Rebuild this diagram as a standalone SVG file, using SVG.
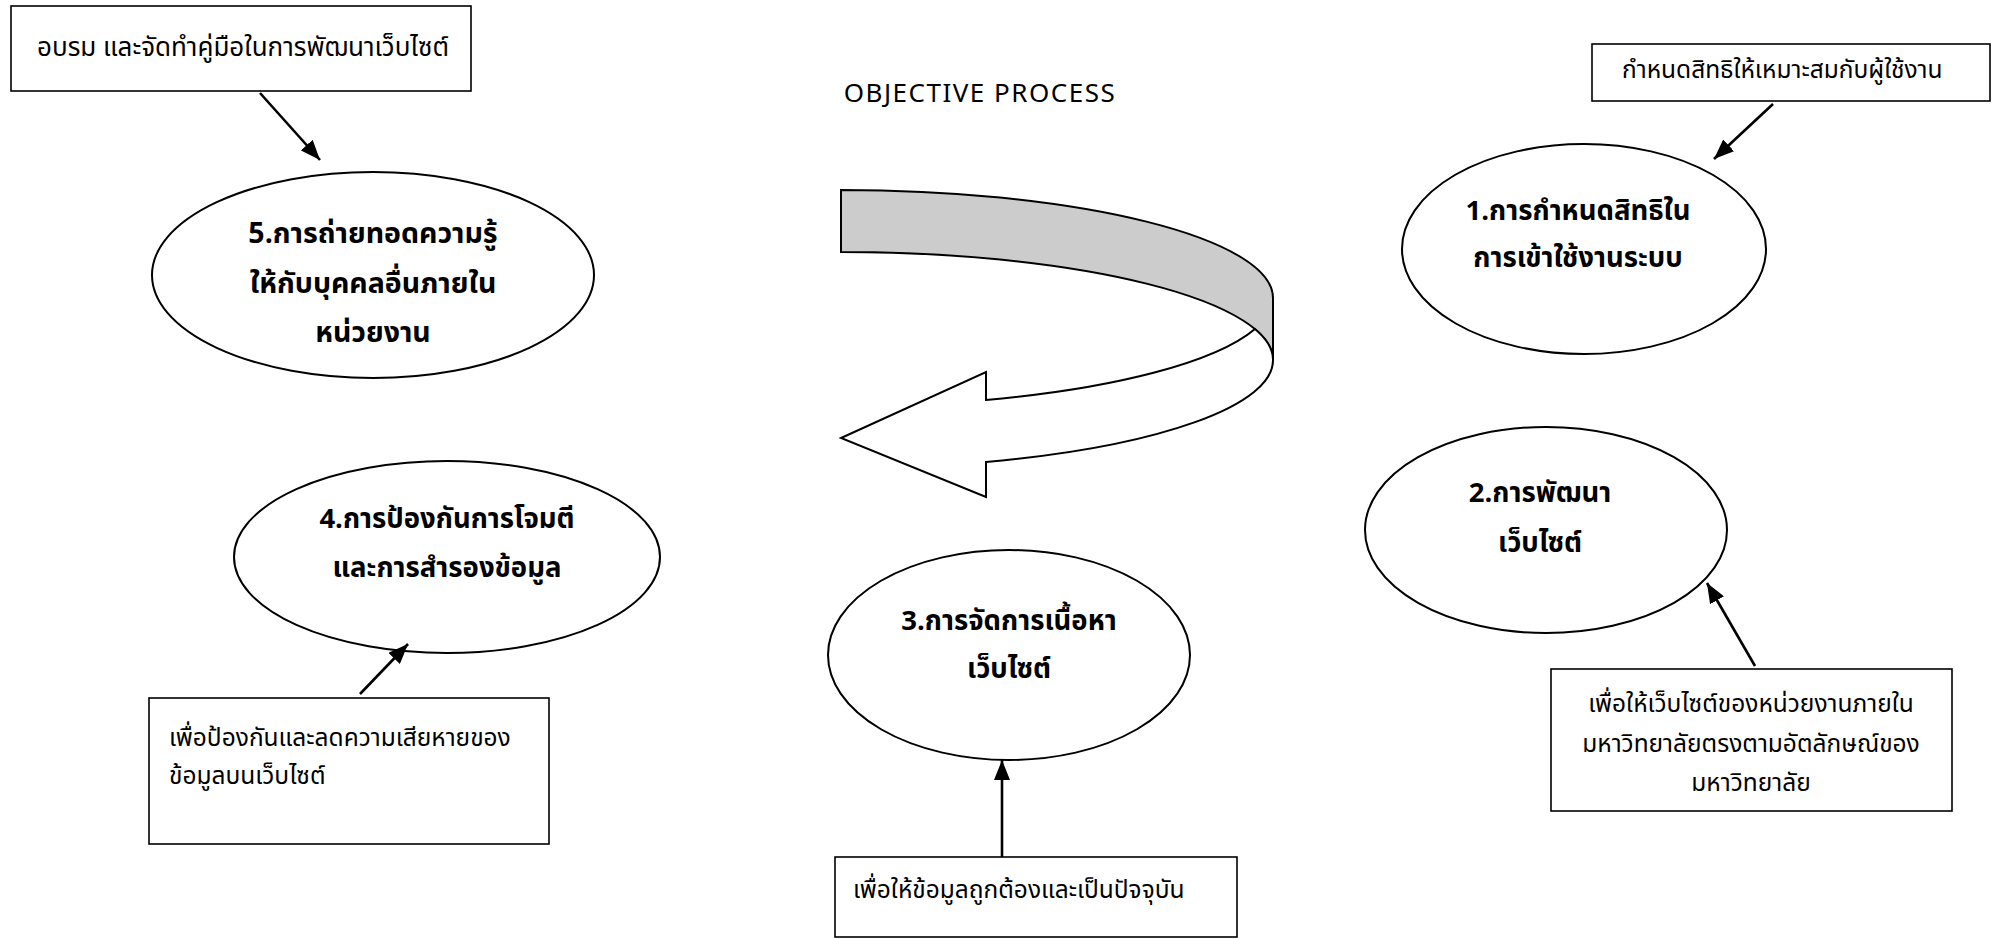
<svg xmlns="http://www.w3.org/2000/svg" width="1997" height="939" viewBox="0 0 1997 939">
<style>
.box{fill:#fff;stroke:#000;stroke-width:1.6}
.ell{fill:#fff;stroke:#000;stroke-width:2}
.t{font-family:"Noto Sans Thai","Noto Sans","DejaVu Sans",sans-serif;font-size:24.5px;fill:#000}
.b{font-family:"Noto Sans Thai","Noto Sans","DejaVu Sans",sans-serif;font-size:27.5px;font-weight:bold;fill:#000;text-anchor:middle}
.title{font-family:"Noto Sans","Liberation Sans",sans-serif;font-size:26px;letter-spacing:1.5px;fill:#000;text-anchor:middle}
.con{stroke:#000;stroke-width:2.6;fill:none;marker-end:url(#ah)}
</style>
<defs>
<marker id="ah" viewBox="0 0 20 16" refX="20" refY="8" markerWidth="20" markerHeight="16" orient="auto" markerUnits="userSpaceOnUse">
<path d="M0,0 L20,8 L0,16 Z" fill="#000"/>
</marker>
</defs>
<rect width="1997" height="939" fill="#fff"/>
<text class="title" x="980" y="102">OBJECTIVE PROCESS</text>
<g id="cycle-arrow">
<path d="M841,190 A432,108 0 0 1 1273,298 L1273,360 A432,108 0 0 0 841,252 Z" fill="#cccccc" stroke="#000" stroke-width="2"/>
<path d="M1255,329 A432,108 0 0 1 986,400 L986,372 L841,438 L986,497 L986,462 A432,108 0 0 0 1273,360 A432,108 0 0 0 1255,329 Z" fill="#fff" stroke="#000" stroke-width="2"/>
</g>
<g id="note-training">
<rect class="box" x="11" y="6" width="460" height="85"/>
<text class="t" x="37" y="56" style="font-size:26px">อบรม และจัดทำคู่มือในการพัฒนาเว็บไซต์</text>
</g>
<g id="note-permission">
<rect class="box" x="1592" y="44" width="398" height="57"/>
<text class="t" x="1622" y="78">กำหนดสิทธิให้เหมาะสมกับผู้ใช้งาน</text>
</g>
<g id="node5">
<ellipse class="ell" cx="373" cy="275" rx="221" ry="103"/>
<text class="b" x="373" y="243" style="font-size:28.5px">5.การถ่ายทอดความรู้</text>
<text class="b" x="373" y="293" style="font-size:28.5px">ให้กับบุคคลอื่นภายใน</text>
<text class="b" x="373" y="342" style="font-size:28.5px">หน่วยงาน</text>
</g>
<g id="node1">
<ellipse class="ell" cx="1584" cy="249" rx="182" ry="105"/>
<text class="b" x="1578" y="220">1.การกำหนดสิทธิใน</text>
<text class="b" x="1578" y="267">การเข้าใช้งานระบบ</text>
</g>
<g id="node4">
<ellipse class="ell" cx="447" cy="557" rx="213" ry="96"/>
<text class="b" x="447" y="528">4.การป้องกันการโจมตี</text>
<text class="b" x="447" y="577">และการสำรองข้อมูล</text>
</g>
<g id="node2">
<ellipse class="ell" cx="1546" cy="530" rx="181" ry="103"/>
<text class="b" x="1540" y="502">2.การพัฒนา</text>
<text class="b" x="1540" y="552">เว็บไซต์</text>
</g>
<g id="node3">
<ellipse class="ell" cx="1009" cy="655" rx="181" ry="105"/>
<text class="b" x="1009" y="630">3.การจัดการเนื้อหา</text>
<text class="b" x="1009" y="678">เว็บไซต์</text>
</g>
<g id="note-protect">
<rect class="box" x="149" y="698" width="400" height="146"/>
<text class="t" x="169" y="746">เพื่อป้องกันและลดความเสียหายของ</text>
<text class="t" x="169" y="784">ข้อมูลบนเว็บไซต์</text>
</g>
<g id="note-content">
<rect class="box" x="835" y="857" width="402" height="80"/>
<text class="t" x="853" y="898">เพื่อให้ข้อมูลถูกต้องและเป็นปัจจุบัน</text>
</g>
<g id="note-identity">
<rect class="box" x="1551" y="669" width="401" height="142"/>
<text class="t" x="1751" y="712" text-anchor="middle">เพื่อให้เว็บไซต์ของหน่วยงานภายใน</text>
<text class="t" x="1751" y="752" text-anchor="middle">มหาวิทยาลัยตรงตามอัตลักษณ์ของ</text>
<text class="t" x="1751" y="791" text-anchor="middle">มหาวิทยาลัย</text>
</g>
<g id="connectors">
<line class="con" x1="260" y1="93" x2="320" y2="160"/>
<line class="con" x1="1773" y1="104" x2="1714" y2="159"/>
<line class="con" x1="1755" y1="666" x2="1707" y2="583"/>
<line class="con" x1="1002" y1="857" x2="1002" y2="760"/>
<line class="con" x1="360" y1="694" x2="408" y2="644"/>
</g>
</svg>
